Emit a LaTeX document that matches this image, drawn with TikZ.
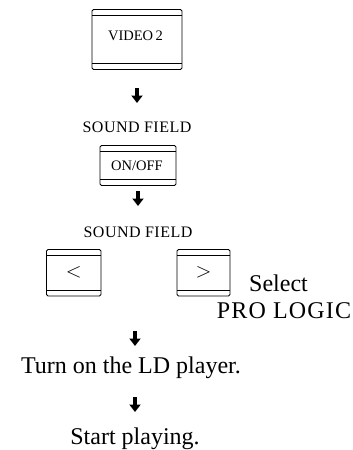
\documentclass[tikz,border=0pt]{standalone}
\usepackage{fontspec}
\setmainfont{Liberation Serif}
\usetikzlibrary{arrows.meta}
\tikzset{
  txt/.style={inner sep=0pt, anchor=base},
  keytext/.style={txt, font=\fontsize{14.5}{16}\selectfont},
  label/.style={txt, font=\fontsize{16}{18}\selectfont\addfontfeature{LetterSpace=3}},
  big/.style={txt, font=\fontsize{24}{26}\selectfont},
  bigcaps/.style={txt, font=\fontsize{24}{26}\selectfont\addfontfeature{LetterSpace=5}},
  downarrow/.style={line width=4.5pt, -{Triangle[width=11pt,length=7.5pt]}},
}
\newcommand{\keyshape}[5]{% x1 y1 x2 y2 name
  \draw[line width=0.8pt, rounded corners=1.5pt] (#1,#2) rectangle (#3,#4);
  \draw[line width=0.6pt] (#1,#2+5.5) -- (#3,#2+5.5);
  \draw[line width=0.8pt] (#1,#4-6) -- (#3,#4-6);
  \coordinate (#5) at ({(#1+#3)/2},{(#2+#4)/2});
}
\begin{document}
\begin{tikzpicture}[x=1pt,y=-1pt]
\useasboundingbox (0,0) rectangle (353,450);
% VIDEO 2 key
\keyshape{92}{9.5}{182}{69.5}{k1}
\node[keytext] (t1) at (135.5,40) {VIDEO\,2};
% arrow 1
\coordinate (a1s) at (137,88);
\coordinate (a1e) at (137,103);
\draw[downarrow] (a1s) -- (a1e);
\node[label] (sf1) at (137,132) {SOUND FIELD};
% ON/OFF key
\keyshape{100}{145.5}{176}{185.5}{k2}
\node[keytext] (t2) at (137,170.5) {ON/OFF};
% arrow 2
\coordinate (a2s) at (138,191);
\coordinate (a2e) at (138,206);
\draw[downarrow] (a2s) -- (a2e);
\node[label] (sf2) at (138,237) {SOUND FIELD};
% < > keys
\keyshape{46.5}{249.5}{101}{296}{k3}
\node[font=\fontsize{20}{22}\selectfont] (lt) at (k3) {$<$};
\keyshape{177}{249.5}{230}{296}{k4}
\node[font=\fontsize{20}{22}\selectfont] (gt) at (k4) {$>$};
\node[big] (sel) at (278.5,291) {Select};
\node[bigcaps] (pro) at (284,318) {PRO LOGIC};
% arrow 3
\coordinate (a3s) at (135,331);
\coordinate (a3e) at (135,346);
\draw[downarrow] (a3s) -- (a3e);
\node[big] (turn) at (131,373) {Turn on the LD player.};
% arrow 4
\coordinate (a4s) at (135,397);
\coordinate (a4e) at (135,412);
\draw[downarrow] (a4s) -- (a4e);
\node[big] (start) at (135,444) {Start playing.};
\end{tikzpicture}
\end{document}
